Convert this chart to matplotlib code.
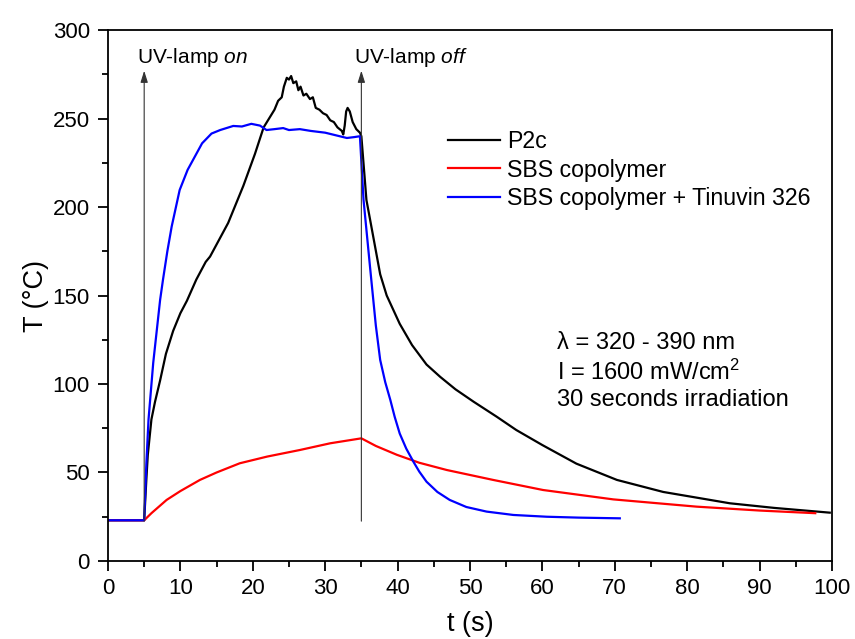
import numpy as np
import matplotlib
matplotlib.use('Agg')
import matplotlib.pyplot as plt
from matplotlib.ticker import MultipleLocator

plt.rcParams['font.family'] = ['Liberation Sans', 'DejaVu Sans']
plt.rcParams['mathtext.fontset'] = 'custom'
plt.rcParams['mathtext.rm'] = 'Liberation Sans'
plt.rcParams['mathtext.it'] = 'Liberation Sans:italic'

# P2c
t_p2c = [0, 5, 5.3, 5.5, 6.0, 6.5, 7.2, 8.0, 9.0, 10.0, 10.9, 12.2, 13.5, 14.1, 16.6, 18.7,
         20.3, 21.5, 23.0, 23.5, 24.0, 24.3, 24.7, 25.0, 25.3, 25.6, 26.0, 26.3, 26.6, 27.0,
         27.4, 27.9, 28.3, 28.7, 29.2, 29.7, 30.2, 30.7, 31.2, 31.7, 32.3, 32.5, 32.7, 32.9,
         33.1, 33.4, 33.8, 34.3, 34.8, 35.0, 35.7, 36.2, 37.6, 38.5, 40.3, 42.0, 44.0, 45.9,
         48.0, 50.5, 53.7, 56.4, 60.0, 64.7, 70.3, 76.7, 85.9, 92.0, 99.7]
T_p2c = [23, 23, 46, 60, 80, 90, 102, 117, 130, 140, 147, 159, 169, 172, 191, 212,
         230, 245, 255, 260, 262, 268, 273, 272, 274, 270, 271, 266, 268, 263,
         264, 261, 262, 256, 255, 253, 252, 249, 248, 245, 243, 241, 246, 254,
         256, 254, 248, 244, 242, 240, 204, 193, 162, 150, 134, 122, 111, 104,
         97, 90, 81.5, 74, 65.5, 55, 45.8, 39, 32.6, 30, 27.3]

# SBS copolymer
t_sbs = [0, 5, 6, 8.1, 10, 12.7, 15, 18.2, 22, 26.5, 30.7, 35, 37, 39.9, 43, 46.8,
         53.2, 60.1, 69.8, 81.3, 90, 97.7]
T_sbs = [23, 23, 27, 34.5, 39.5, 45.8, 50, 55.2, 59, 62.7, 66.5, 69.3, 65, 60, 55.5, 51.4,
         45.8, 40.1, 34.8, 30.7, 28.5, 27]

# SBS copolymer + Tinuvin 326
t_tin = [0, 5, 5.3, 5.6, 6.25, 7.2, 7.6, 8.2, 8.8, 9.9, 11, 12.2, 13, 14.3, 15.5, 17.3,
         18.5, 19.8, 21, 21.9, 23, 24.2, 25, 26.5, 28, 30, 32, 33, 34, 34.8, 35.3, 36.2,
         37.0, 37.6, 38.3, 39.0, 39.6, 40.3, 41.2, 42.2, 43.0, 44.0, 45.5, 47.2, 49.5, 52.3,
         56, 60.6, 65, 70.7]
T_tin = [23, 23, 55, 80, 112, 147.5, 159, 175, 189, 209.6, 221, 230, 236, 241.5, 243.5, 245.8,
         245.5, 247, 246, 243.5, 244, 244.6, 243.5, 244, 243, 242, 240, 239, 239.5, 240, 204, 166,
         133, 113.6, 101, 91, 81.5, 72, 63.5, 56, 50.5, 44.8, 39, 34.5, 30.5, 27.9,
         26, 25, 24.5, 24.1]

lamp_on = 5
lamp_off = 35

fig = plt.figure(figsize=(8.55, 6.39), dpi=100)
ax = fig.add_axes([0.1263, 0.1221, 0.8467, 0.8309])

ax.plot(t_p2c, T_p2c, color='black', lw=1.6, label='P2c')
ax.plot(t_sbs, T_sbs, color='#ff0000', lw=1.6, label='SBS copolymer')
ax.plot(t_tin, T_tin, color='#0000ff', lw=1.6, label='SBS copolymer + Tinuvin 326')

# lamp on/off arrows
for tx in (lamp_on, lamp_off):
    ax.annotate('', xy=(tx, 277), xytext=(tx, 22.5),
                arrowprops=dict(arrowstyle='-|>,head_length=0.7,head_width=0.22',
                                color='#333333', lw=0.8, shrinkA=0, shrinkB=0))
ax.text(lamp_on - 1.05, 281.4, 'UV-lamp $\\mathit{on}$', fontsize=15, ha='left', va='baseline')
ax.text(lamp_off - 1.02, 281.4, 'UV-lamp $\\mathit{off}$', fontsize=15, ha='left', va='baseline')

ax.text(62, 107, 'λ = 320 - 390 nm\nI = 1600 mW/cm$^2$\n30 seconds irradiation',
        fontsize=17, ha='left', va='center', linespacing=1.25)

ax.set_xlim(0, 100)
ax.set_ylim(0, 300)
ax.xaxis.set_major_locator(MultipleLocator(10))
ax.xaxis.set_minor_locator(MultipleLocator(5))
ax.yaxis.set_major_locator(MultipleLocator(50))
ax.yaxis.set_minor_locator(MultipleLocator(25))
ax.tick_params(which='both', direction='out', width=1.3, labelsize=16, top=False, right=False)
ax.tick_params(which='major', length=7)
ax.tick_params(which='minor', length=4)
ax.tick_params(axis='x', which='major', pad=5)
ax.tick_params(axis='y', which='major', pad=6)
for s in ax.spines.values():
    s.set_linewidth(1.3)

ax.set_xlabel('t (s)', fontsize=19.5, labelpad=9)
ax.set_ylabel('T (°C)', fontsize=19.5, labelpad=2.5)

ax.legend(loc='center left', bbox_to_anchor=(0.4696, 0.7363), frameon=False, fontsize=16.7,
          handlelength=2.24, handletextpad=0.3, labelspacing=0.25, borderaxespad=0, borderpad=0)

fig.savefig('out.png', dpi=100)
